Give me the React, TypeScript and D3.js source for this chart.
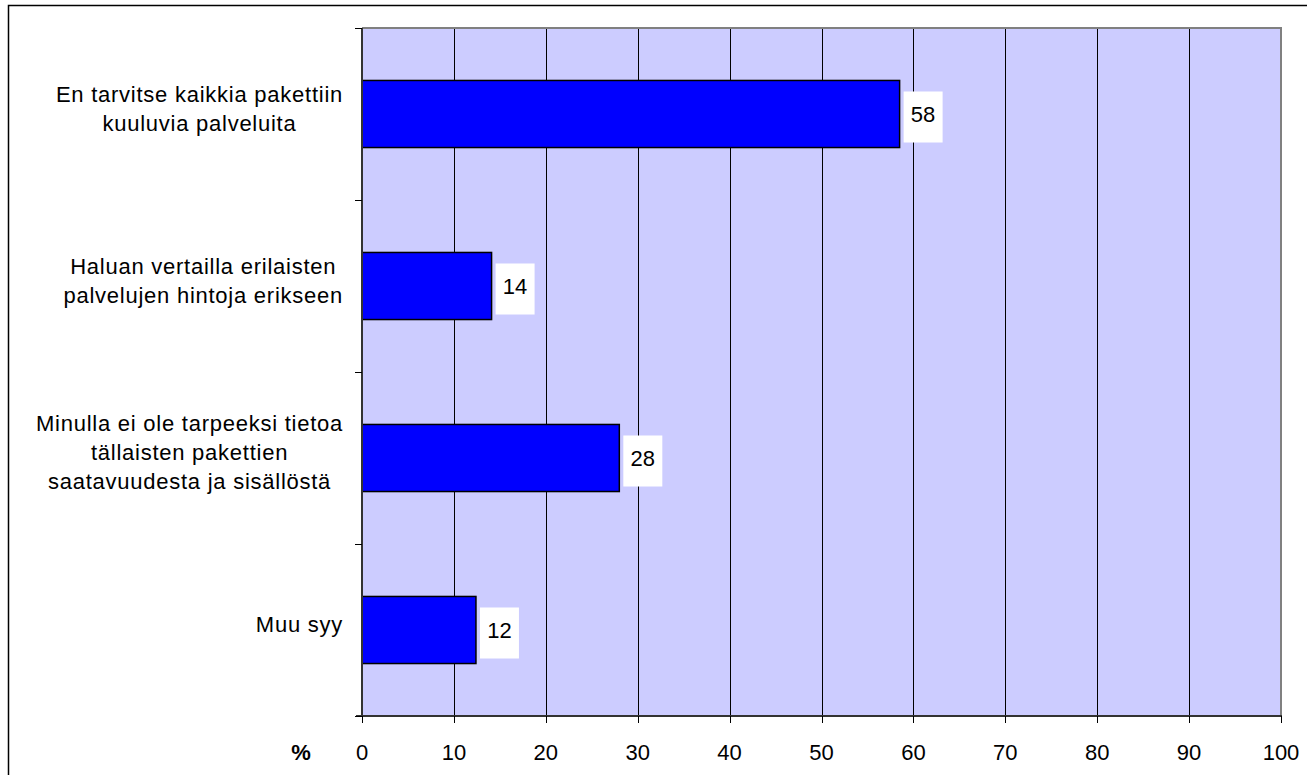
import React, { useEffect, useRef } from "react";
import * as d3 from "d3";

const categories = [
  "En tarvitse kaikkia pakettiin|kuuluvia palveluita",
  "Haluan vertailla erilaisten|palvelujen hintoja erikseen",
  "Minulla ei ole tarpeeksi tietoa|tällaisten pakettien|saatavuudesta ja sisällöstä",
  "Muu syy",
];
const values = [58.5, 14.1, 28.0, 12.4];
const dataLabels = ["58", "14", "28", "12"];
const xTicks = [0, 10, 20, 30, 40, 50, 60, 70, 80, 90, 100];
const axisUnit = "%";

const W = 1307;
const H = 775;
const FONT = "Arial, 'Liberation Sans', sans-serif";

export default function App() {
  const ref = useRef<SVGSVGElement | null>(null);

  useEffect(() => {
    const svg = d3.select(ref.current);
    svg.selectAll("*").remove();

    const left = 362, right = 1281, top = 28, bottom = 716;
    const x = d3.scaleLinear().domain([0, 100]).range([left, right]);
    const y = d3
      .scaleBand<string>()
      .domain(categories)
      .range([top, bottom])
      .paddingInner(0.61)
      .paddingOuter(0.305);
    const step = y.step();

    svg.append("rect")
      .attr("x", 8.5).attr("y", 5.5).attr("width", 1310).attr("height", 800)
      .attr("fill", "white").attr("stroke", "#000").attr("stroke-width", 1.5);

    svg.append("rect")
      .attr("x", left).attr("y", top).attr("width", right - left).attr("height", bottom - top)
      .attr("fill", "#CCCCFF");

    svg.append("g").selectAll("line")
      .data(xTicks.filter((t) => t > 0 && t < 100))
      .join("line")
      .attr("x1", (d) => Math.round(x(d)) + 0.5).attr("x2", (d) => Math.round(x(d)) + 0.5)
      .attr("y1", top).attr("y2", bottom)
      .attr("stroke", "#000").attr("stroke-width", 1);

    svg.append("path")
      .attr("d", `M${left},${top}H${right}V${bottom}`)
      .attr("fill", "none").attr("stroke", "#808080").attr("stroke-width", 2);

    svg.append("g").selectAll("rect")
      .data(categories)
      .join("rect")
      .attr("x", left)
      .attr("y", (d) => y(d)!)
      .attr("width", (d, i) => x(values[i]) - left)
      .attr("height", y.bandwidth())
      .attr("fill", "#0000FF").attr("stroke", "#000").attr("stroke-width", 1.5);

    const lab = svg.append("g");
    categories.forEach((c, i) => {
      const cy = y(c)! + y.bandwidth() / 2;
      const bx = x(values[i]) + 4;
      lab.append("rect")
        .attr("x", bx).attr("y", cy - 22.5).attr("width", 39).attr("height", 51)
        .attr("fill", "white");
      lab.append("text")
        .attr("x", bx + 19.5).attr("y", cy + 7.5)
        .attr("text-anchor", "middle")
        .attr("font-family", FONT).attr("font-size", 22)
        .attr("fill", "#000")
        .text(dataLabels[i]);
    });

    svg.append("line")
      .attr("x1", left).attr("x2", left).attr("y1", top).attr("y2", bottom + 1)
      .attr("stroke", "#333").attr("stroke-width", 2);
    svg.append("line")
      .attr("x1", left - 6).attr("x2", right + 1).attr("y1", bottom).attr("y2", bottom)
      .attr("stroke", "#333").attr("stroke-width", 2);

    const yb = d3.range(categories.length + 1).map((i) => top + i * step);
    svg.append("g").selectAll("line")
      .data(yb)
      .join("line")
      .attr("x1", left - 7).attr("x2", left)
      .attr("y1", (d) => Math.round(d) + 0.5).attr("y2", (d) => Math.round(d) + 0.5)
      .attr("stroke", "#000").attr("stroke-width", 1);

    svg.append("g").selectAll("line")
      .data(xTicks)
      .join("line")
      .attr("x1", (d) => Math.round(x(d)) + 0.5).attr("x2", (d) => Math.round(x(d)) + 0.5)
      .attr("y1", bottom).attr("y2", bottom + 7)
      .attr("stroke", "#000").attr("stroke-width", 1);

    svg.append("g").selectAll("text")
      .data(xTicks)
      .join("text")
      .attr("x", (d) => x(d)).attr("y", 760)
      .attr("text-anchor", "middle")
      .attr("font-family", FONT).attr("font-size", 22)
      .attr("fill", "#000")
      .text((d) => String(d));

    svg.append("text")
      .attr("x", 301).attr("y", 760)
      .attr("text-anchor", "middle")
      .attr("font-family", FONT).attr("font-size", 22).attr("font-weight", "bold")
      .attr("fill", "#000")
      .text(axisUnit);

    const lineH = 29;
    const rightEdge = 343;
    categories.forEach((c) => {
      const lines = c.split("|");
      const cy = (y(c)! - (step - y.bandwidth()) / 2) + step / 2;
      const g = svg.append("g");
      const texts = lines.map((ln, j) =>
        g.append("text")
          .attr("y", cy + (j - (lines.length - 1) / 2) * lineH + 2)
          .attr("text-anchor", "middle")
          .attr("font-family", FONT).attr("font-size", 22)
          .attr("letter-spacing", 0.75)
          .attr("fill", "#000")
          .text(ln)
      );
      const maxW = d3.max(texts, (t) => (t.node() as SVGTextElement).getComputedTextLength()) || 0;
      texts.forEach((t) => t.attr("x", rightEdge - maxW / 2));
    });
  }, []);

  return (
    <svg
      ref={ref}
      width={W}
      height={H}
      style={{ position: "absolute", left: 0, top: 0, background: "white" }}
    />
  );
}
